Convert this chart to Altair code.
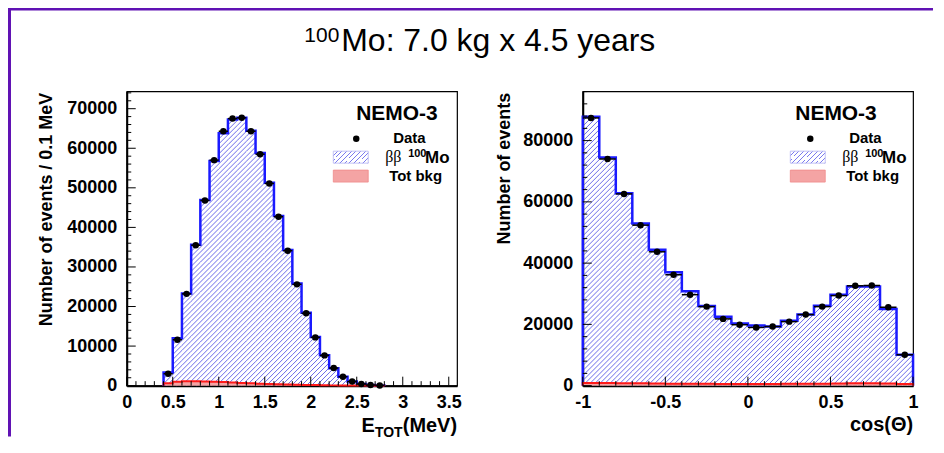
import math
import altair as alt
import pandas as pd

# ---------------- data ----------------
# Left panel: total energy of the two electrons, 0.1 MeV bins starting at 0.4 MeV
energy_bin_start = 0.4
energy_bin_width = 0.1
energy_data = [3000, 11600, 23200, 35500, 46800, 57000, 64300, 67500, 67700, 64300, 58500, 51100,
               42700, 34100, 25600, 18300, 12200, 7650, 4450, 2270, 1050, 420, 150, 40]
energy_model = [3300, 12000, 23300, 35600, 46900, 56800, 63800, 67300, 67700, 64400, 58800, 51300,
                42900, 34300, 25800, 18400, 12300, 7700, 4400, 2250, 1050, 430, 160, 50]
energy_bkg = [600, 1000, 1100, 1100, 1050, 1000, 900, 800, 700, 600, 500, 420,
              350, 290, 230, 180, 140, 100, 70, 50, 30, 20, 10, 5]

# Right panel: angular distribution, 0.1 bins from -1 to 1
cos_bin_start = -1.0
cos_bin_width = 0.1
cos_data = [87400, 74000, 62600, 52400, 43700, 36200, 29700, 25800, 21800, 19900,
            19000, 19300, 20900, 23200, 25800, 29400, 32600, 32700, 25600, 10100]
cos_model = [87800, 74500, 62800, 52900, 44400, 37000, 30800, 26000, 22500, 20300,
             19600, 19300, 21200, 23200, 26100, 29700, 32400, 32400, 25000, 10100]
cos_bkg = [900, 850, 800, 750, 700, 650, 600, 600, 550, 550,
           550, 550, 600, 600, 650, 700, 750, 750, 700, 500]

energy_ticks = [0, 0.5, 1, 1.5, 2, 2.5, 3, 3.5]
energy_yticks = [0, 10000, 20000, 30000, 40000, 50000, 60000, 70000]
cos_ticks = [-1, -0.5, 0, 0.5, 1]
cos_yticks = [0, 20000, 40000, 60000, 80000]

# ---------------- styling ----------------
W, H = 331, 295
FONT = "Liberation Sans"
PURPLE = "#6012b4"
BLUE = "#1a1aff"
HATCH = "#5a5ae6"
RED = "#ff1a1a"
PINK = "#f4a4a4"
one = pd.DataFrame({"k": [0]})


def hatch(w, h, period=5.0, frac=0.2, color="#7a7aee", bg="#ffffff"):
    r = w / h
    gy = (r + 1) / (r * r + 1)
    gx = r * gy
    n = max(1, int(round(w * (gx * gx + gy * gy) / (gx * period))))
    stops = []
    for k in range(n):
        a, b, c = k / n, (k + 1 - frac) / n, (k + 1) / n
        stops += [alt.GradientStop(color=bg, offset=a), alt.GradientStop(color=bg, offset=b),
                  alt.GradientStop(color=color, offset=b), alt.GradientStop(color=color, offset=c)]
    return alt.Gradient(gradient="linear", stops=stops, x1=0, y1=0, x2=gx, y2=gy)


def hatch_segments(start, width, values, xdom, ydom, period=5.0):
    """45-degree hatch lines clipped to every histogram bin (in data units)."""
    kx = W / (xdom[1] - xdom[0])
    ky = H / (ydom[1] - ydom[0])
    rows = []
    for i, v in enumerate(values):
        x0 = start + i * width
        a = (x0 - xdom[0]) * kx
        b = (x0 + width - xdom[0]) * kx
        h = v * ky
        for k in range(math.floor(-b / period) - 1, math.ceil((h - a) / period) + 2):
            d = k * period
            s = max(a, -d)
            e = min(b, h - d)
            if e - s > 0.2:
                rows.append(dict(hx=xdom[0] + s / kx, hy=(s + d) / ky,
                                 hx2=xdom[0] + e / kx, hy2=(e + d) / ky))
    return pd.DataFrame(rows)


def bins_frame(start, width, data, model, bkg):
    rows = []
    for i, (d, m, b) in enumerate(zip(data, model, bkg)):
        x0 = round(start + i * width, 6)
        rows.append(dict(x0=x0, x1=round(x0 + width, 6), xc=round(x0 + width / 2, 6),
                         data=d, model=m, bkg=b))
    return pd.DataFrame(rows)


def step_frame(start, width, values):
    pts = [dict(i=0, x=start, v=0)]
    for k, v in enumerate(values):
        pts.append(dict(i=k + 1, x=round(start + k * width, 6), v=v))
    end = round(start + len(values) * width, 6)
    pts.append(dict(i=len(values) + 1, x=end, v=values[-1]))
    pts.append(dict(i=len(values) + 2, x=end, v=0))
    return pd.DataFrame(pts)


def text(t, x, y, size, weight="bold", align="left", font=FONT):
    return alt.Chart(one).mark_text(text=t, fontSize=size, fontWeight=weight, align=align,
                                    baseline="alphabetic", font=font, color="black").encode(
        x=alt.value(x), y=alt.value(y))


def panel(start, width, data, model, bkg, xdom, ydom, xticks, yticks, xminor, yminor, ytitle, ytitle_x,
          leg):
    xs = alt.Scale(domain=xdom, nice=False, zero=False)
    ys = alt.Scale(domain=ydom, nice=False, zero=True)
    bins = bins_frame(start, width, data, model, bkg)
    mstep = step_frame(start, width, model)
    bstep = step_frame(start, width, bkg)
    hseg = hatch_segments(start, width, model, xdom, ydom)

    ax_x = alt.Axis(values=xticks, labelExpr="'' + datum.value", labelFontSize=18, labelFontWeight="bold",
                    labelPadding=8, labelFlush=False, labelOverlap=False, ticks=False, tickSize=0,
                    domainColor="black", domainWidth=2, grid=False, title=None)
    ax_y = alt.Axis(values=yticks, labelExpr="'' + datum.value", labelFontSize=18, labelFontWeight="bold",
                    labelPadding=10, labelOverlap=False, ticks=False, tickSize=0,
                    domainColor="black", domainWidth=2, grid=False,
                    title=ytitle, titleFontSize=18, titleFontWeight="bold", titleX=ytitle_x, titleY=1,
                    titleAlign="right", titleBaseline="middle", titleAngle=-90)

    def X(f):
        return alt.X(f, scale=xs, axis=ax_x)

    def Y(f):
        return alt.Y(f, scale=ys, axis=ax_y)

    hatch_lines = alt.Chart(hseg).mark_rule(color=HATCH, strokeWidth=0.9).encode(
        x=X("hx:Q"), y=Y("hy:Q"), x2="hx2:Q", y2="hy2:Q")
    bkg_area = alt.Chart(bstep).mark_area(interpolate="step-after", fill=PINK, opacity=1).encode(
        x=X("x:Q"), y=Y("v:Q"), order=alt.Order("i:Q"))
    model_line = alt.Chart(mstep).mark_line(interpolate="step-after", color=BLUE, strokeWidth=2.5).encode(
        x=X("x:Q"), y=Y("v:Q"), order=alt.Order("i:Q"))
    bkg_line = alt.Chart(bstep).mark_line(interpolate="step-after", color=RED, strokeWidth=2).encode(
        x=X("x:Q"), y=Y("v:Q"), order=alt.Order("i:Q"))
    data_bar = alt.Chart(bins).mark_rule(color="black", strokeWidth=1.5).encode(
        x=X("x0:Q"), x2="x1:Q", y=Y("data:Q"))
    data_dot = alt.Chart(bins).mark_circle(color="black", size=42, opacity=1).encode(
        x=X("xc:Q"), y=Y("data:Q"))

    def xt(vals, ln):
        return alt.Chart(pd.DataFrame({"t": vals})).mark_rule(color="black", strokeWidth=1).encode(
            x=X("t:Q"), y=alt.value(H), y2=alt.value(H - ln))

    def yt(vals, ln):
        return alt.Chart(pd.DataFrame({"t": vals})).mark_rule(color="black", strokeWidth=1).encode(
            y=Y("t:Q"), x=alt.value(0), x2=alt.value(ln))

    layers = [hatch_lines, bkg_area, model_line, bkg_line, xt(xticks, 9), xt(xminor, 4.5), yt(yticks, 9),
              yt(yminor, 4.5), data_bar, data_dot]

    # legend
    b = leg["bb"]
    layers += [
        text("NEMO-3", leg["nemo"], 28.5, 21),
        alt.Chart(one).mark_circle(color="black", size=42, opacity=1).encode(
            x=alt.value(leg["dot"]), y=alt.value(47.5)),
        text("Data", 267, 52, 15),
        alt.Chart(one).mark_rect(fill=hatch(36, 12), stroke="#b4b4f2", strokeWidth=0.8).encode(
            x=alt.value(leg["box"]), x2=alt.value(leg["box"] + 35), y=alt.value(60), y2=alt.value(72)),
        text("ββ", b, 71, 16, weight="normal", font="Liberation Serif"),
        text("100", b + 23, 65.5, 11),
        text("Mo", b + 40, 71.5, 17),
        alt.Chart(one).mark_rect(fill=PINK, stroke="#f08a8a", strokeWidth=0.8).encode(
            x=alt.value(leg["box"]), x2=alt.value(leg["box"] + 35), y=alt.value(79), y2=alt.value(91)),
        text("Tot bkg", leg["tot"], 89.5, 15),
    ]
    return layers


energy_minor = [round(0.1 * k, 1) for k in range(36) if k % 5]
cos_minor = [round(-1 + 0.1 * k, 1) for k in range(21) if k % 5]

left_layers = panel(energy_bin_start, energy_bin_width, energy_data, energy_model, energy_bkg,
                    [0, 3.59], [0, 74400], energy_ticks, energy_yticks, energy_minor,
                    [2000 * k for k in range(38) if k % 5], "Number of events / 0.1 MeV", -80,
                    dict(nemo=230, dot=230, box=207, bb=259, tot=263))
right_layers = panel(cos_bin_start, cos_bin_width, cos_data, cos_model, cos_bkg,
                     [-1, 1], [0, 96100], cos_ticks, cos_yticks, cos_minor,
                     [4000 * k for k in range(25) if k % 5], "Number of events", -78,
                     dict(nemo=213, dot=228, box=208, bb=260, tot=264))

# x-axis titles (with subscript)
left_layers += [
    text("(MeV)", W, 341, 20, align="right"),
    text("TOT", W - 54.5, 346, 14, align="right"),
    text("E", W - 82.5, 341, 20, align="right"),
]
right_layers += [text("cos(Θ)", W, 340, 20, align="right")]

# overall title and purple frame (drawn in the left panel's coordinates)
left_layers += [
    text("100", 178, -49.5, 21, weight="normal"),
    text("Mo: 7.0 kg x 4.5 years", 215, -40.5, 32, weight="normal"),
    alt.Chart(one).mark_rule(color=PURPLE, strokeWidth=4).encode(
        x=alt.value(-120), x2=alt.value(808), y=alt.value(-83)),
    alt.Chart(one).mark_rule(color=PURPLE, strokeWidth=4).encode(
        x=alt.value(-118), y=alt.value(-85), y2=alt.value(346)),
]

left = alt.layer(*left_layers).properties(width=W, height=H)
right = alt.layer(*right_layers).properties(width=W, height=H)

chart = alt.hconcat(left, right, spacing=126, bounds="flush").properties(
    padding={"left": -4, "top": -5, "right": 0, "bottom": 0}
).configure(background="white").configure_view(stroke="black", strokeWidth=1.2).configure_axis(
    labelFont=FONT, titleFont=FONT, labelColor="black", titleColor="black")

chart.save("out.html", embed_options={"renderer": "svg", "actions": False})
